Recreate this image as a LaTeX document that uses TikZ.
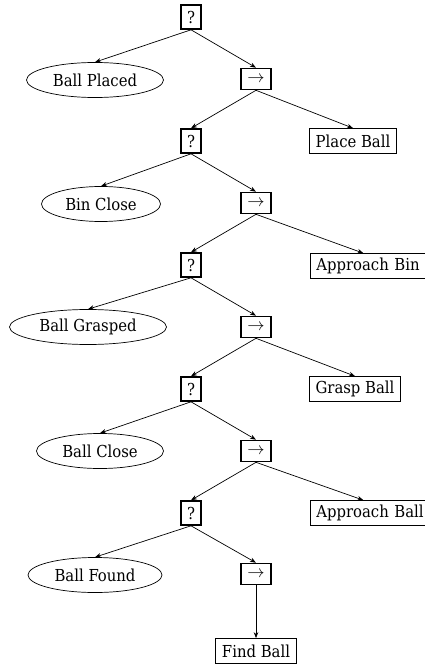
\documentclass[tikz,border=0pt]{standalone}
\usepackage{fontspec}
\setmainfont{DejaVu Serif Condensed}
\usetikzlibrary{arrows.meta,shapes.geometric}
\begin{document}
\begin{tikzpicture}[x=1pt,y=-1pt,
  every node/.style={font=\fontsize{16.5}{19}\selectfont},
  fallback/.style={draw,line width=1.6pt,rectangle,inner sep=0pt,minimum width=20pt,minimum height=24pt},
  sequence/.style={draw,line width=1.6pt,rectangle,inner sep=0pt,minimum width=30pt,minimum height=21pt},
  condition/.style={draw,line width=0.7pt,ellipse,inner sep=0pt,minimum height=35pt},
  action/.style={draw,line width=0.7pt,rectangle,inner sep=0pt,minimum height=25pt},
  wideaction/.style={action,anchor=west,inner xsep=6pt,text width=112pt,align=left},
  link/.style={-{Stealth[length=6pt,width=4.5pt]},line width=0.7pt}
]
\useasboundingbox (0,0) rectangle (424,666);

% level 1
\node[fallback] (f1) at (191,17) {?};
\node[condition,minimum width=137pt] (c1) at (95,80) {Ball Placed};
\node[sequence] (s1) at (256,79) {$\rightarrow$};
\node[action,minimum width=87pt] (a1) at (353,141) {Place Ball};

% level 2
\node[fallback] (f2) at (191,141) {?};
\node[condition,minimum width=119pt] (c2) at (101,204) {Bin Close};
\node[sequence] (s2) at (256,203) {$\rightarrow$};
\node[wideaction] (a2) at (310,266) {Approach Bin};

% level 3
\node[fallback] (f3) at (191,265) {?};
\node[condition,minimum width=157pt] (c3) at (88,327) {Ball Grasped};
\node[sequence] (s3) at (256,327) {$\rightarrow$};
\node[action,minimum width=91pt] (a3) at (355,389) {Grasp Ball};

% level 4
\node[fallback] (f4) at (191,389) {?};
\node[condition,minimum width=127pt] (c4) at (100,451) {Ball Close};
\node[sequence] (s4) at (256,451) {$\rightarrow$};
\node[wideaction] (a4) at (310,513) {Approach Ball};

% level 5
\node[fallback] (f5) at (191,513) {?};
\node[condition,minimum width=134pt] (c5) at (95,575) {Ball Found};
\node[sequence] (s5) at (256,574) {$\rightarrow$};
\node[action,minimum width=81pt] (a5) at (256,651) {Find Ball};

% connectors
\foreach \i in {1,...,5} {
  \draw[link] (f\i.south) -- (c\i.north);
  \draw[link] (f\i.south) -- (s\i.north);
}
\foreach \i/\j in {1/2,2/3,3/4,4/5} {
  \draw[link] (s\i.south) -- (f\j.north);
}
\draw[link] (s1.south) -- (a1.north);
\draw[link] (s2.south) -- ([xshift=-9pt]a2.north);
\draw[link] (s3.south) -- (a3.north);
\draw[link] (s4.south) -- ([xshift=-9pt]a4.north);
\draw[link] (s5.south) -- (a5.north);
\end{tikzpicture}
\end{document}
